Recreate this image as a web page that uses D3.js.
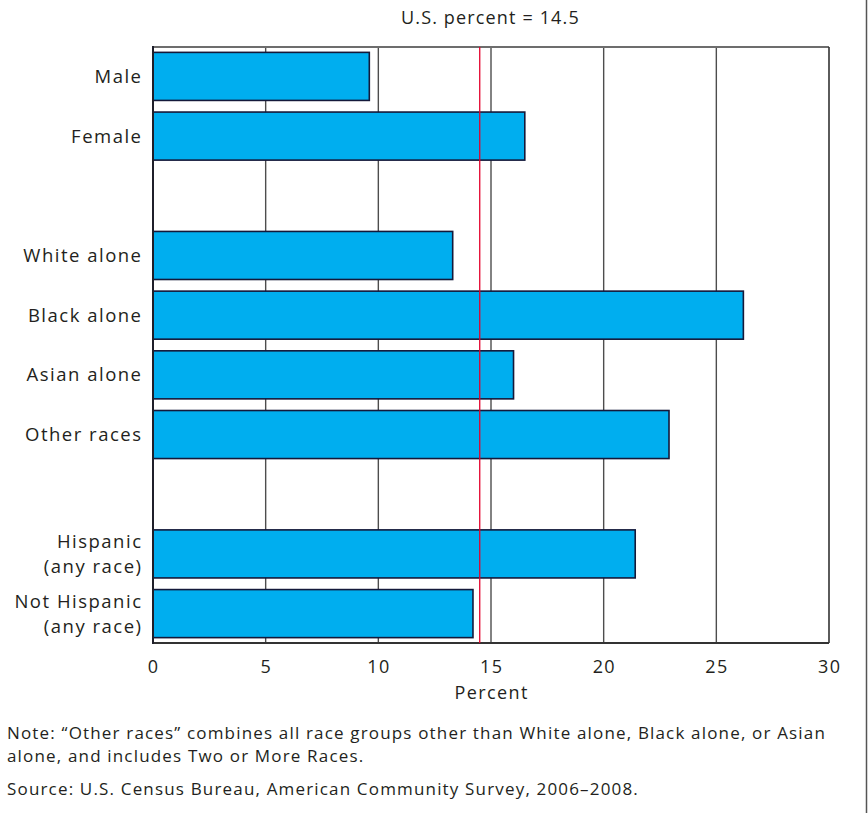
<!DOCTYPE html>
<html>
<head>
<meta charset="utf-8">
<script src="https://cdn.jsdelivr.net/npm/d3@7"></script>
<style>
  html, body { margin: 0; padding: 0; background: #fff; }
  svg { display: block; font-family: "Open Sans", "Noto Sans", sans-serif; fill: #231f20; }
</style>
</head>
<body>
<svg id="chart" width="868" height="813"></svg>
<script>
// ---- data ----
const categories = [
  ["Male"], ["Female"], [],
  ["White alone"], ["Black alone"], ["Asian alone"], ["Other races"], [],
  ["Hispanic", "(any race)"], ["Not Hispanic", "(any race)"]
];
const values = [9.6, 16.5, null, 13.3, 26.2, 16.0, 22.9, null, 21.4, 14.2];
const usPercent = 14.5;
const xTicks = [0, 5, 10, 15, 20, 25, 30];
const titleText = "U.S. percent = 14.5";
const xAxisTitle = "Percent";
const noteLines = [
  "Note: \u201COther races\u201D combines all race groups other than White alone, Black alone, or Asian",
  "alone, and includes Two or More Races."
];
const sourceText = "Source: U.S. Census Bureau, American Community Survey, 2006\u20132008.";

// ---- layout ----
const svg = d3.select("#chart");
const mLeft = 153, mRight = 829, mTop = 47, mBottom = 643;
const ls = 1.5;      // letter spacing for labels
const lsNote = 1.17; // letter spacing for notes

const x = d3.scaleLinear().domain([0, 30]).range([mLeft, mRight]);
const y = d3.scaleBand()
  .domain(d3.range(categories.length))
  .range([mTop, mBottom])
  .paddingInner(0.195)
  .paddingOuter(0.09);

// outer frame line on right edge of image
svg.append("line").attr("x1", 866.5).attr("x2", 866.5).attr("y1", 0).attr("y2", 813)
  .attr("stroke", "#555").attr("stroke-width", 1.5);

// gridlines
svg.append("g").selectAll("line").data(xTicks.filter(t => t > 0 && t < 30)).join("line")
  .attr("x1", d => x(d)).attr("x2", d => x(d))
  .attr("y1", mTop).attr("y2", mBottom)
  .attr("stroke", "#4d4d4d").attr("stroke-width", 1.4);

// frame
svg.append("line").attr("x1", mLeft).attr("x2", mRight).attr("y1", mTop).attr("y2", mTop)
  .attr("stroke", "#6d6d6d").attr("stroke-width", 2.2);
svg.append("line").attr("x1", mRight).attr("x2", mRight).attr("y1", mTop).attr("y2", mBottom)
  .attr("stroke", "#333").attr("stroke-width", 1.6);
svg.append("line").attr("x1", mLeft).attr("x2", mRight).attr("y1", mBottom).attr("y2", mBottom)
  .attr("stroke", "#333").attr("stroke-width", 1.8);

// bars
const barData = values.map((v, i) => ({ i, v })).filter(d => d.v !== null);
svg.append("g").selectAll("rect").data(barData).join("rect")
  .attr("x", x(0))
  .attr("y", d => y(d.i))
  .attr("width", d => x(d.v) - x(0))
  .attr("height", y.bandwidth())
  .attr("fill", "#00aeef")
  .attr("stroke", "#14193a")
  .attr("stroke-width", 1.6);

// left axis line
svg.append("line").attr("x1", mLeft).attr("x2", mLeft).attr("y1", mTop - 1).attr("y2", mBottom + 1)
  .attr("stroke", "#1f1f2a").attr("stroke-width", 2);

// US reference line
svg.append("line").attr("x1", x(usPercent)).attr("x2", x(usPercent))
  .attr("y1", mTop).attr("y2", mBottom)
  .attr("stroke", "#e4002b").attr("stroke-width", 1.3);

// category labels
const labelG = svg.append("g").attr("font-size", 18.5).attr("text-anchor", "end")
  .attr("letter-spacing", ls);
categories.forEach((lines, i) => {
  if (!lines.length) return;
  const cy = y(i) + y.bandwidth() / 2;
  const lh = 25;
  lines.forEach((t, k) => {
    labelG.append("text")
      .attr("x", mLeft - 12 + ls)
      .attr("y", cy + (k - (lines.length - 1) / 2) * lh)
      .attr("dy", "0.35em")
      .text(t);
  });
});

// x tick labels
svg.append("g").attr("font-size", 18).attr("text-anchor", "middle").attr("letter-spacing", 1.4)
  .selectAll("text").data(xTicks).join("text")
  .attr("x", d => x(d) + 0.7).attr("y", 673).text(d => d);

// axis title
svg.append("text").attr("x", (mLeft + mRight) / 2 + 0.7).attr("y", 699)
  .attr("text-anchor", "middle").attr("font-size", 18).attr("letter-spacing", 1.4).text(xAxisTitle);

// top label
svg.append("text").attr("x", x(usPercent) + 10 + 0.7).attr("y", 24)
  .attr("text-anchor", "middle").attr("font-size", 18).attr("letter-spacing", 1.15).text(titleText);

// notes
const noteG = svg.append("g").attr("font-size", 17).attr("letter-spacing", lsNote);
noteLines.forEach((t, k) => {
  noteG.append("text").attr("x", 7).attr("y", 739 + k * 23).text(t);
});
noteG.append("text").attr("x", 7).attr("y", 795).text(sourceText);
</script>
</body>
</html>
